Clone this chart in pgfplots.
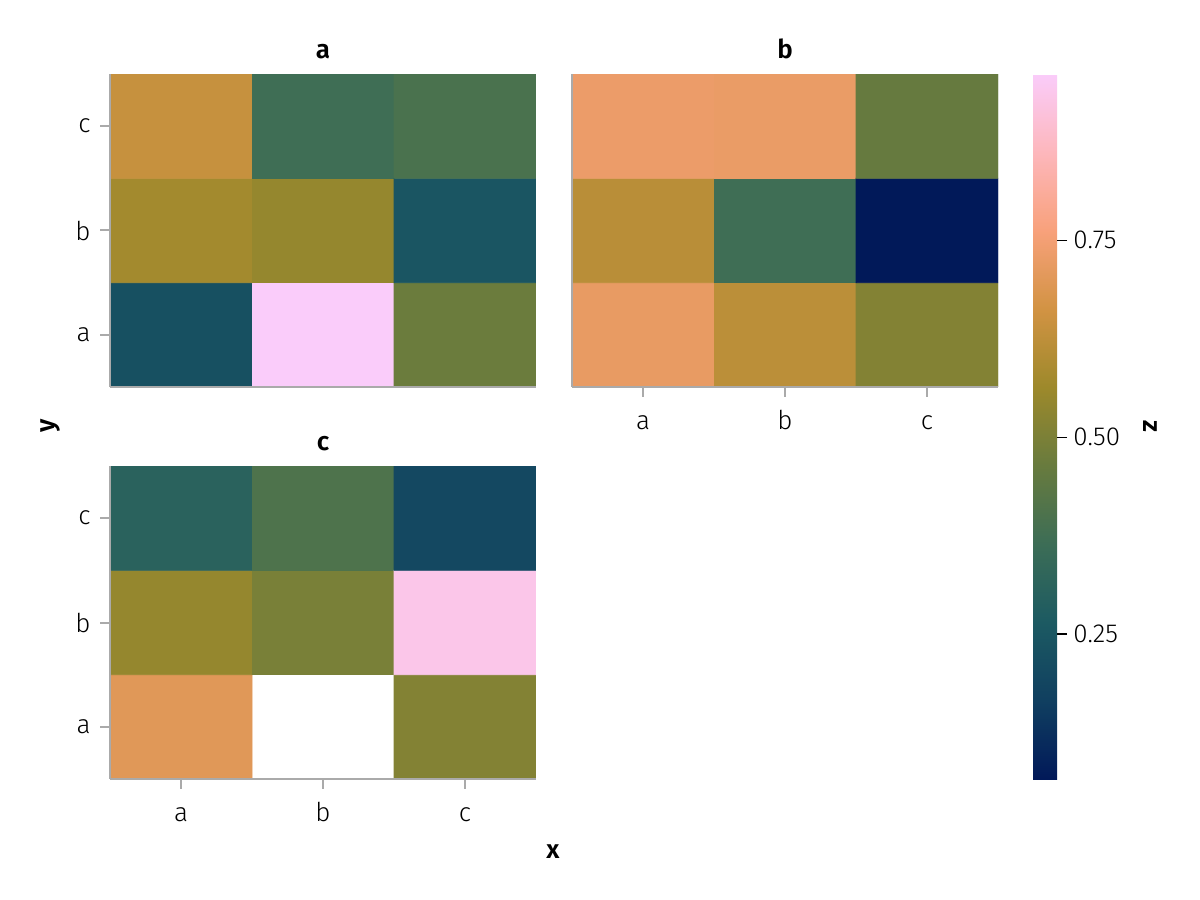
\documentclass[border=0pt]{standalone}
\usepackage{pgfplots}
\pgfplotsset{compat=1.18}
\usepackage{pgfplotstable}
\usepackage{fontspec}
\setmainfont{Fira Sans}[UprightFont=* Light, BoldFont=* SemiBold]
\definecolor{spine}{HTML}{AAAAAA}
\pgfplotsset{
  colormap={batlow}{rgb255=(1,25,89) rgb255=(16,63,96) rgb255=(28,90,98) rgb255=(60,109,86) rgb255=(104,123,62) rgb255=(157,137,43) rgb255=(210,147,67) rgb255=(248,161,123) rgb255=(253,183,188) rgb255=(250,204,250)},
}
\pgfplotstableread{
x y z
0 0 0.227
1 0 0.961
2 0 0.469
0 1 0.575
1 1 0.549
2 1 0.245
0 2 0.640
1 2 0.370
2 2 0.397
}\facetA
\pgfplotstableread{
x y z
0 0 0.720
1 0 0.620
2 0 0.514
0 1 0.615
1 1 0.370
2 1 0.066
0 2 0.730
1 2 0.725
2 2 0.460
}\facetB
\pgfplotstableread{
x y z
0 0 0.700
1 0 nan
2 0 0.514
0 1 0.549
1 1 0.496
2 1 0.934
0 2 0.308
1 2 0.406
2 2 0.200
}\facetC
\pgfplotsset{
  facet/.style={
    scale only axis, width=213pt, height=156.5pt,
    anchor=south west,
    xmin=-0.5, xmax=2.5, ymin=-0.5, ymax=2.5,
    axis x line*=bottom, axis y line*=left,
    axis line style={draw=spine, line width=1pt},
    xtick={0,1,2}, ytick={0,1,2},
    xticklabels={a,b,c}, yticklabels={a,b,c},
    tick style={draw=spine, line width=1pt},
    major tick length=5pt, tick align=outside,
    tick label style={font=\fontsize{13}{15}\selectfont},
    xticklabel style={anchor=base, inner sep=0pt, yshift=-16.5pt},
    yticklabel style={anchor=east, inner sep=0pt, xshift=-4.5pt},
    title style={font=\fontsize{13}{15}\selectfont\bfseries, at={(0.5,1)}, anchor=base, inner sep=0pt, yshift=2pt},
    colormap name=batlow,
    point meta min=0.066, point meta max=0.961,
    unbounded coords=jump,
    axis on top,
  },
}
\begin{document}
\begin{tikzpicture}
\path[use as bounding box] (0,0) rectangle (600pt,450pt);
% facet a
\begin{axis}[facet, at={(55pt,256.5pt)}, title={a}, xtick=\empty]
\addplot[matrix plot*, mesh/cols=3, point meta=explicit] table[x=x, y=y, meta=z] {\facetA};
\end{axis}
% facet b
\begin{axis}[facet, at={(286pt,256.5pt)}, title={b}, ytick=\empty,
  colorbar,
  colorbar style={
    at={(parent axis.north east)}, anchor=north west, xshift=9pt,
    scale only axis, width=12pt, height=352.5pt,
    axis line style={draw=none},
    ytick={0.25,0.5,0.75},
    ytick pos=right, yticklabel pos=right,
    tick style={draw=black, line width=0.6pt},
    major tick length=5pt, tick align=outside,
    yticklabel style={font=\fontsize{13}{15}\selectfont, anchor=west, inner sep=0pt, xshift=3pt,
      /pgf/number format/.cd, fixed, fixed zerofill, precision=2, assume math mode=true},
  }]
\addplot[matrix plot*, mesh/cols=3, point meta=explicit] table[x=x, y=y, meta=z] {\facetB};
\end{axis}
% facet c
\begin{axis}[facet, at={(55pt,60.5pt)}, title={c}]
\addplot[matrix plot*, mesh/cols=3, point meta=explicit] table[x=x, y=y, meta=z] {\facetC};
\end{axis}
\node[font=\fontsize{13}{15}\selectfont\bfseries] at (276.5pt,24pt) {x};
\node[font=\fontsize{13}{15}\selectfont\bfseries, rotate=90] at (25pt,237pt) {y};
\node[font=\fontsize{13}{15}\selectfont\bfseries, rotate=-90] at (575pt,237pt) {z};
\end{tikzpicture}
\end{document}
